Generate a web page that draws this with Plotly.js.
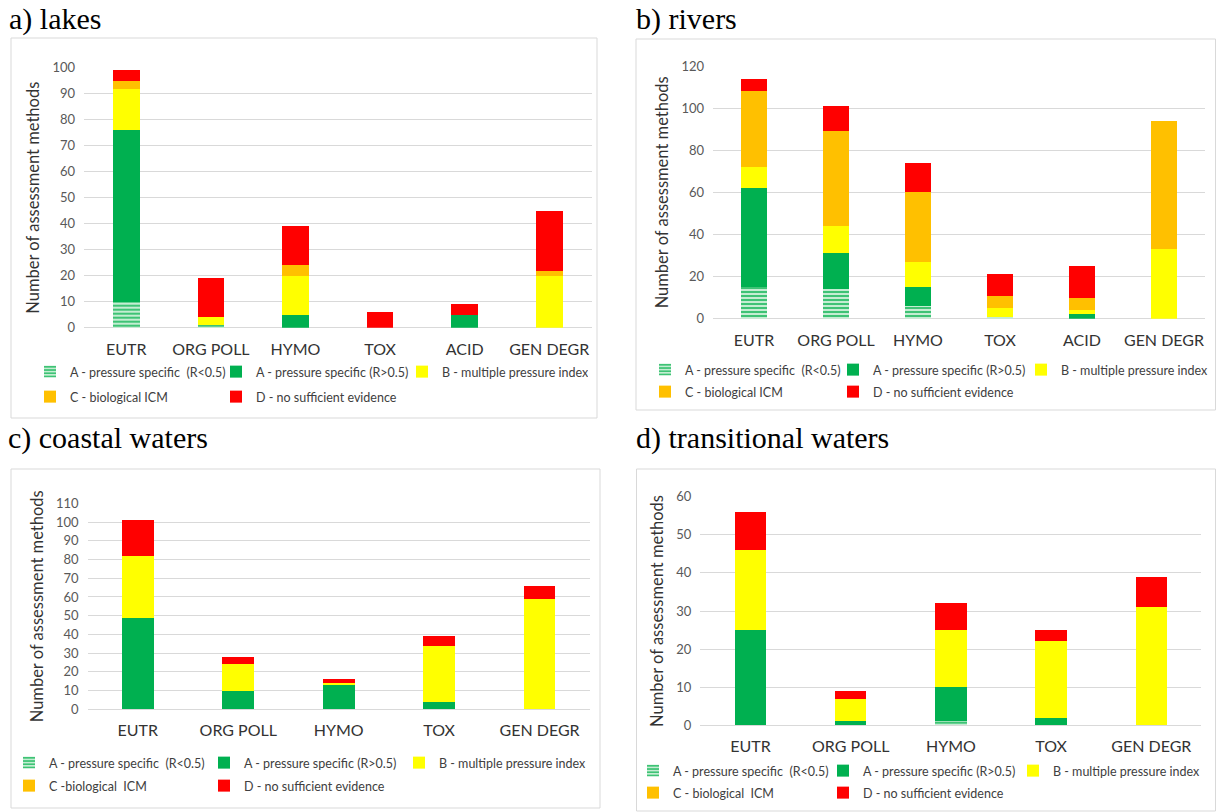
<!DOCTYPE html>
<html>
<head>
<meta charset="utf-8">
<script src="https://cdn.plot.ly/plotly-3.0.1.min.js"></script>
<style>
  html, body { margin: 0; padding: 0; background: #ffffff; }
  #chart { width: 1216px; height: 812px; }
</style>
</head>
<body>
<div id="chart"></div>
<script>
// ---- Data: number of assessment methods per pressure type ----
const categoriesLakesRivers = ['EUTR', 'ORG POLL', 'HYMO', 'TOX', 'ACID', 'GEN DEGR'];
const categoriesCoastalTransitional = ['EUTR', 'ORG POLL', 'HYMO', 'TOX', 'GEN DEGR'];

const seriesNamesLakes = ['A - pressure specific\u00a0 (R<0.5)', 'A - pressure specific (R>0.5)', 'B - multiple pressure index', 'C - biological ICM', 'D - no sufficient evidence'];
const seriesNamesRivers = ['A - pressure specific\u00a0 (R<0.5)', 'A - pressure specific (R>0.5)', 'B - multiple pressure index', 'C - biological ICM', 'D - no sufficient evidence'];
const seriesNamesCoastal = ['A - pressure specific\u00a0 (R<0.5)', 'A - pressure specific (R>0.5)', 'B - multiple pressure index', 'C -biological\u00a0 ICM', 'D - no sufficient evidence'];
const seriesNamesTransitional = ['A - pressure specific\u00a0 (R<0.5)', 'A - pressure specific (R>0.5)', 'B - multiple pressure index', 'C - biological\u00a0 ICM', 'D - no sufficient evidence'];

// a) lakes
const lakesALow  = [10, 1, 0, 0, 0, 0];
const lakesAHigh = [66, 0, 5, 0, 5, 0];
const lakesB     = [16, 3, 15, 0, 0, 20];
const lakesC     = [3, 0, 4, 0, 0, 2];
const lakesD     = [4, 15, 15, 6, 4, 23];

// b) rivers
const riversALow  = [15, 14, 6, 1, 0, 0];
const riversAHigh = [47, 17, 9, 0, 2, 0];
const riversB     = [10, 13, 12, 4, 2, 33];
const riversC     = [36, 45, 33, 6, 6, 61];
const riversD     = [6, 12, 14, 10, 15, 0];

// c) coastal waters
const coastalALow  = [0, 0, 0, 0, 0];
const coastalAHigh = [49, 10, 13, 4, 0];
const coastalB     = [33, 14, 1, 30, 59];
const coastalC     = [0, 0, 0, 0, 0];
const coastalD     = [19, 4, 2, 5, 7];

// d) transitional waters
const transALow  = [0, 0, 1, 0, 0];
const transAHigh = [25, 1, 9, 2, 0];
const transB     = [21, 6, 15, 20, 31];
const transC     = [0, 0, 0, 0, 0];
const transD     = [10, 2, 7, 3, 8];

const panelTitles = ['a) lakes', 'b) rivers', 'c) coastal waters', 'd) transitional waters'];
const yAxisTitle = 'Number of assessment methods';

// ---- Styling ----
const W = 1216, H = 812;
const px = x => x / W;            // pixel column -> paper x
const py = y => 1 - y / H;        // pixel row -> paper y

const GREEN = '#00b050', YELLOW = '#ffff00', ORANGE = '#ffc000', RED = '#ff0000';
const seriesMarkers = [
  { color: '#b3e6c5', pattern: { shape: '-', fgcolor: '#2fbf6a', bgcolor: '#c4edd2', size: 4, solidity: 0.45 } },
  { color: GREEN },
  { color: YELLOW },
  { color: ORANGE },
  { color: RED }
];

const TEXT = '#404040';
const GRID = '#d9d9d9';
const FONT = 'Lato, "Open Sans", sans-serif';

// Panel geometry (pixels) and series binding
const panels = [
  { cats: categoriesLakesRivers, names: seriesNamesLakes,
    series: [lakesALow, lakesAHigh, lakesB, lakesC, lakesD],
    plot: { x0: 84, x1: 591.5, y0: 327.7, y1: 67.7 }, range: [0, 100], dtick: 10,
    box: { x0: 11, x1: 597, y0: 38, y1: 418 },
    title: { x: 7, y: 18.5 },
    legendX: 30, legendRows: [372, 397], entry: 141 },
  { cats: categoriesLakesRivers, names: seriesNamesRivers,
    series: [riversALow, riversAHigh, riversB, riversC, riversD],
    plot: { x0: 713, x1: 1205, y0: 318.7, y1: 66 }, range: [0, 120], dtick: 20,
    box: { x0: 636, x1: 1215.5, y0: 39, y1: 410 },
    title: { x: 634, y: 18.5 },
    legendX: 645, legendRows: [370, 392], entry: 143 },
  { cats: categoriesCoastalTransitional, names: seriesNamesCoastal,
    series: [coastalALow, coastalAHigh, coastalB, coastalC, coastalD],
    plot: { x0: 87.6, x1: 589.8, y0: 709.3, y1: 503.3 }, range: [0, 110], dtick: 10,
    box: { x0: 11, x1: 600, y0: 469, y1: 808 },
    title: { x: 6, y: 438 },
    legendX: 9, legendRows: [763, 786], entry: 150 },
  { cats: categoriesCoastalTransitional, names: seriesNamesTransitional,
    series: [transALow, transAHigh, transB, transC, transD],
    plot: { x0: 700.4, x1: 1201.4, y0: 725.3, y1: 496.7 }, range: [0, 60], dtick: 10,
    box: { x0: 636.5, x1: 1215.5, y0: 469, y1: 811 },
    title: { x: 634, y: 438 },
    legendX: 633, legendRows: [771, 793], entry: 145 }
];

const traces = [];
const layout = {
  width: W, height: H,
  margin: { l: 0, r: 0, t: 0, b: 0 },
  paper_bgcolor: '#ffffff',
  plot_bgcolor: 'rgba(0,0,0,0)',
  barmode: 'stack',
  bargap: 0.685,
  showlegend: true,
  font: { family: FONT, color: TEXT },
  shapes: [],
  annotations: []
};

panels.forEach((p, i) => {
  const n = i + 1;
  const xKey = n === 1 ? 'xaxis' : 'xaxis' + n;
  const yKey = n === 1 ? 'yaxis' : 'yaxis' + n;
  const xRef = n === 1 ? 'x' : 'x' + n;
  const yRef = n === 1 ? 'y' : 'y' + n;
  const leg1 = 'legend' + (2 * i + 1 === 1 ? '' : (2 * i + 1));
  const leg2 = 'legend' + (2 * i + 2);

  p.series.forEach((vals, s) => {
    traces.push({
      type: 'bar',
      x: p.cats,
      y: vals,
      name: p.names[s],
      xaxis: xRef,
      yaxis: yRef,
      marker: Object.assign({ line: { width: 0 } }, seriesMarkers[s]),
      legend: s < 3 ? leg1 : leg2,
      hovertemplate: '%{x}: %{y}<extra>' + p.names[s] + '</extra>'
    });
  });

  layout[xKey] = {
    domain: [px(p.plot.x0), px(p.plot.x1)],
    anchor: yRef,
    type: 'category',
    categoryorder: 'array',
    categoryarray: p.cats,
    showgrid: false, showline: false, zeroline: false,
    ticks: '',
    ticklabelstandoff: 10,
    tickfont: { family: FONT, size: 16, color: '#333333' },
    fixedrange: true
  };
  layout[yKey] = {
    domain: [py(p.plot.y0), py(p.plot.y1)],
    anchor: xRef,
    range: p.range,
    dtick: p.dtick,
    tick0: 0,
    showgrid: true, gridcolor: GRID, gridwidth: 1,
    zeroline: true, zerolinecolor: GRID, zerolinewidth: 1,
    showline: false,
    ticks: '',
    ticklabelstandoff: 8,
    tickfont: { family: FONT, size: 13, color: '#595959' },
    title: { text: yAxisTitle, font: { family: FONT, size: 16.5, color: '#333333' }, standoff: 8 },
    fixedrange: true
  };

  const legendBase = {
    orientation: 'h',
    xref: 'paper', yref: 'paper',
    x: px(p.legendX), xanchor: 'left',
    yanchor: 'middle',
    bgcolor: 'rgba(0,0,0,0)',
    font: { family: FONT, size: 12.5, color: '#404040' },
    entrywidth: p.entry, entrywidthmode: 'pixels',
    traceorder: 'normal',
    itemclick: false, itemdoubleclick: false
  };
  layout[leg1] = Object.assign({}, legendBase, { y: py(p.legendRows[0]) });
  layout[leg2] = Object.assign({}, legendBase, { y: py(p.legendRows[1]) });

  layout.shapes.push({
    type: 'rect', xref: 'paper', yref: 'paper', layer: 'below',
    x0: px(p.box.x0), x1: px(p.box.x1), y0: py(p.box.y1), y1: py(p.box.y0),
    line: { color: GRID, width: 1 }, fillcolor: 'rgba(0,0,0,0)'
  });

  layout.annotations.push({
    text: panelTitles[i],
    xref: 'paper', yref: 'paper',
    x: px(p.title.x), y: py(p.title.y),
    xanchor: 'left', yanchor: 'middle',
    showarrow: false,
    font: { family: '"Liberation Serif", "Times New Roman", serif', size: 30, color: '#000000' }
  });
});

Plotly.newPlot('chart', traces, layout, { displayModeBar: false, responsive: false, staticPlot: true });
</script>
</body>
</html>
